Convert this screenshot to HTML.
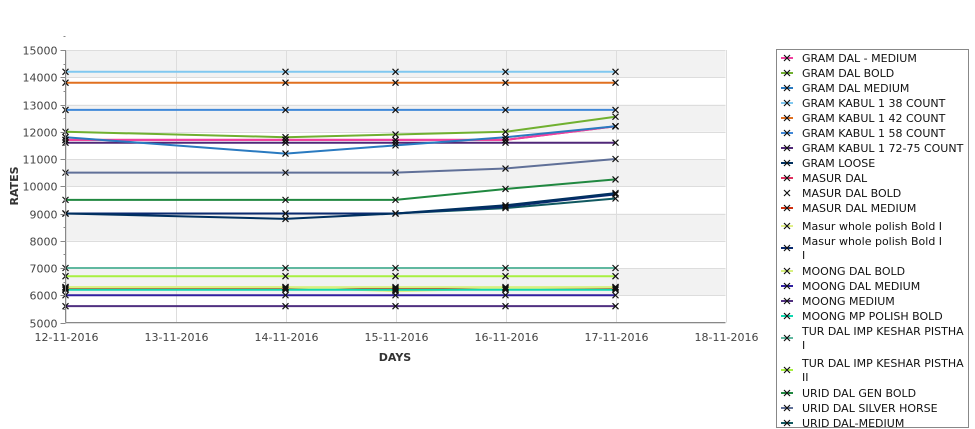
<!DOCTYPE html>
<html><head><meta charset="utf-8">
<style>
html,body{margin:0;padding:0;background:#fff;width:975px;height:429px;overflow:hidden}
svg text{font-family:"DejaVu Sans","Liberation Sans",sans-serif}
</style></head>
<body>
<svg id="chart" width="975" height="429" xmlns="http://www.w3.org/2000/svg">
<g id="bands"></g>
<g id="grid"></g>
<g id="series"></g>
<g id="axes"></g>
<text x="395" y="361" text-anchor="middle" font-size="11" font-weight="bold" fill="#333">DAYS</text>
<text transform="translate(18,186) rotate(-90)" text-anchor="middle" font-size="11" font-weight="bold" fill="#333">RATES</text>
<rect x="776.5" y="49.5" width="192" height="378" fill="#fff" stroke="#888"/>
<g id="legend"></g>
</svg>
<script>
const dates = ["12-11-2016","13-11-2016","14-11-2016","15-11-2016","16-11-2016","17-11-2016","18-11-2016"];
const dataDays = [0,2,3,4,5];
const yTicks = [5000,6000,7000,8000,9000,10000,11000,12000,13000,14000,15000];
const seriesNames = ["GRAM DAL - MEDIUM","GRAM DAL BOLD","GRAM DAL MEDIUM","GRAM KABUL 1 38 COUNT","GRAM KABUL 1 42 COUNT","GRAM KABUL 1 58 COUNT","GRAM KABUL 1 72-75 COUNT","GRAM LOOSE","MASUR DAL","MASUR DAL BOLD","MASUR DAL MEDIUM","Masur whole polish Bold I","Masur whole polish Bold I|I","MOONG DAL BOLD","MOONG DAL MEDIUM","MOONG MEDIUM","MOONG MP POLISH BOLD","TUR DAL IMP KESHAR PISTHA| I","TUR DAL IMP KESHAR PISTHA| II","URID DAL GEN BOLD","URID DAL SILVER HORSE","URID DAL-MEDIUM"];
const seriesColors = ["#f040a0","#70b030","#2a7ac0","#80c8f0","#e07020","#4088d8","#502878","#003060","#e03060","#ffffff","#d03010","#e0f088","#0a2a70","#d8f080","#3020a0","#503080","#10d8b0","#60b8a0","#a8f040","#208840","#607098","#105860"];
const s0 = [11700,11700,11700,11700,12200];
const s1 = [12000,11800,11900,12000,12550];
const s2 = [11800,11200,11500,11800,12200];
const s3 = [14200,14200,14200,14200,14200];
const s4 = [13800,13800,13800,13800,13800];
const s5 = [12800,12800,12800,12800,12800];
const s6 = [11600,11600,11600,11600,11600];
const s7 = [9000,8800,9000,9300,9750];
const s8 = [11700,11700,11700,11700,12200];
const s9 = [6250,6250,6250,6250,6250];
const s10 = [6250,6250,6250,6250,6250];
const s11 = [6300,6300,6150,6250,6300];
const s12 = [9000,9000,9000,9250,9700];
const s13 = [6300,6300,6300,6300,6300];
const s14 = [6000,6000,6000,6000,6000];
const s15 = [5600,5600,5600,5600,5600];
const s16 = [6200,6200,6200,6200,6200];
const s17 = [7000,7000,7000,7000,7000];
const s18 = [6700,6700,6700,6700,6700];
const s19 = [9500,9500,9500,9900,10250];
const s20 = [10500,10500,10500,10650,11000];
const s21 = [9000,9000,9000,9200,9550];
const seriesValues = [s0,s1,s2,s3,s4,s5,s6,s7,s8,s9,s10,s11,s12,s13,s14,s15,s16,s17,s18,s19,s20,s21];

const NS="http://www.w3.org/2000/svg";
const X0=65.5,X1=725.5,Y0=322.5,Y1=50;
const xs=d=>X0+(X1-X0)*d/6;
const ys=v=>Y0-(Y0-Y1)*(v-5000)/10000;
function mk(tag,parent,attrs){const e=document.createElementNS(NS,tag);for(const k in attrs)e.setAttribute(k,attrs[k]);parent.appendChild(e);return e;}
const bands=document.getElementById('bands'),grid=document.getElementById('grid'),ser=document.getElementById('series'),axes=document.getElementById('axes'),leg=document.getElementById('legend');
for(let i=0;i<yTicks.length-1;i++){
  if((yTicks.length-2-i)%2===0){
    const r=mk('rect',bands,{x:X0,y:ys(yTicks[i+1]),width:X1-X0,height:ys(yTicks[i])-ys(yTicks[i+1]),fill:'#f2f2f2'});
    
    
  }
}
yTicks.forEach(v=>{
  const y=Math.round(ys(v))+0.5;
  const l=mk('line',grid,{x1:X0,x2:X1,y1:y,y2:y,stroke:'#ddd'});
  
  
  const t=mk('line',axes,{x1:X0-5,x2:X0,y1:y,y2:y,stroke:'#888'});
  
  
  const m=mk('line',axes,{x1:X0-2,x2:X0,y1:Math.round(ys(v+500))+0.5,y2:Math.round(ys(v+500))+0.5,stroke:'#888'});
  
  
  const tx=mk('text',axes,{x:X0-8,y:y+4,'text-anchor':'end','font-size':'11',fill:'#444'});
  tx.textContent=v;
  
  
});
dates.forEach((d,i)=>{
  const x=Math.round(xs(i))+0.5;
  const l=mk('line',grid,{x1:x,x2:x,y1:Y1,y2:Y0,stroke:'#ddd'});
  
  
  const tx=mk('text',axes,{x:x,y:341,'text-anchor':'middle','font-size':'11',fill:'#444'});
  tx.textContent=d;
  
  
});
const ax=mk('line',axes,{x1:X0,x2:X1,y1:Y0,y2:Y0,stroke:'#888'});


const ay=mk('line',axes,{x1:X0,x2:X0,y1:Y1,y2:Y0,stroke:'#888'});


function cross(parent,x,y,c){
  const g=mk('g',parent,{});
  mk('path',g,{d:`M${x-3},${y-3}L${x+3},${y+3}M${x-3},${y+3}L${x+3},${y-3}`,stroke:c,'stroke-width':'1.2'});
  return g;
}
const order=[9,10,11,8,0,16,13,14,15,17,18,21,12,7,19,20,6,2,1,5,4,3];
order.forEach(si=>{
  const vals=seriesValues[si];
  const pts=vals.map((v,i)=>xs(dataDays[i]).toFixed(1)+','+ys(v).toFixed(1)).join(' ');
  const p=mk('polyline',ser,{points:pts,fill:'none',stroke:seriesColors[si],'stroke-width':'2'});
  
  
});
order.forEach(si=>{
  seriesValues[si].forEach((v,i)=>{
    const c=cross(ser,xs(dataDays[i]),ys(v),'#111');
    
    
  });
});
let ly=58;
seriesNames.forEach((n,i)=>{
  const lines=n.split('|');
  const cy=lines.length>1?ly+7:ly;
  const item=mk('g',leg,{});
  
  
  mk('line',item,{x1:781,x2:793,y1:cy,y2:cy,stroke:seriesColors[i],'stroke-width':'2'});
  cross(item,787,cy,'#111');
  lines.forEach((t,j)=>{
    const tx=mk('text',item,{x:802,y:ly+4+j*14,'font-size':'11',fill:'#111'});
    tx.textContent=t;
  });
  ly+=lines.length>1?30:15;
  if(i===10)ly+=3;
  if(i===17)ly+=2;
});
</script>
</body></html>
